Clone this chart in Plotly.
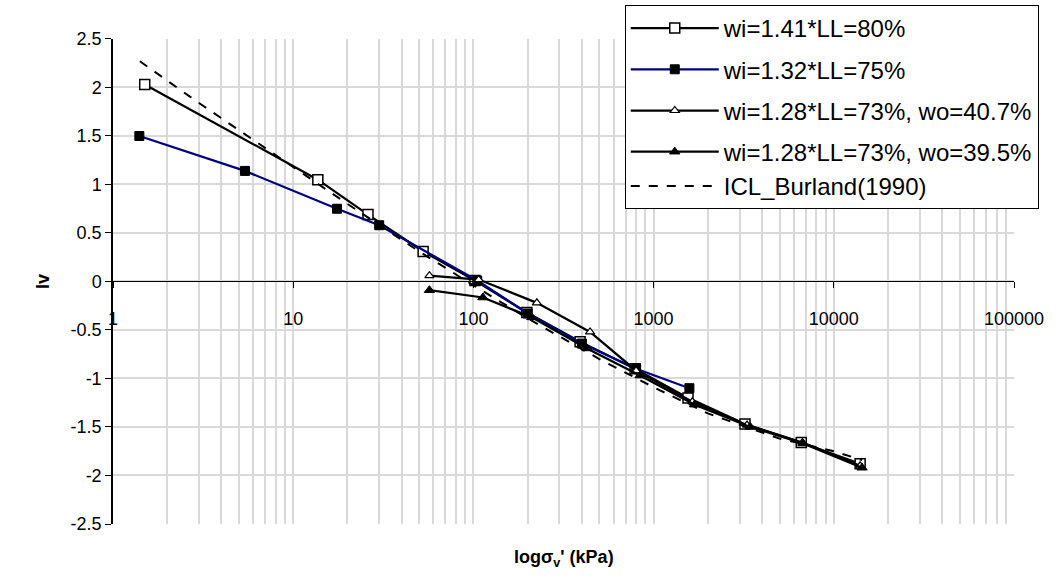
import plotly.graph_objects as go

# Oedometer compression data: void index Iv against vertical effective stress (kPa)
s1_stress = [1.5, 13.7, 26, 52.6, 102, 198, 391, 789, 1552, 3215, 6600, 14000]
s1_iv = [2.03, 1.05, 0.69, 0.31, 0.01, -0.32, -0.62, -0.90, -1.20, -1.47, -1.66, -1.88]

s2_stress = [1.4, 5.4, 17.5, 30, 105, 200, 400, 800, 1580]
s2_iv = [1.50, 1.14, 0.75, 0.58, 0.01, -0.33, -0.64, -0.90, -1.10]

s3_stress = [57, 107, 225, 444, 800, 1640, 3300, 6700, 14000]
s3_iv = [0.06, 0.02, -0.22, -0.52, -0.92, -1.24, -1.48, -1.66, -1.90]

s4_stress = [57, 113, 211, 427, 841, 1690, 3440, 6750, 14350]
s4_iv = [-0.09, -0.165, -0.37, -0.69, -0.97, -1.27, -1.50, -1.67, -1.92]

icl_stress = [1.41, 3, 5, 10, 20, 50, 100, 200, 500, 1000, 2000, 5000, 10000, 14350]
icl_iv = [2.27, 1.84, 1.56, 1.18, 0.80, 0.31, -0.04, -0.38, -0.80, -1.09, -1.36, -1.62, -1.75, -1.84]

names = ["wi=1.41*LL=80%", "wi=1.32*LL=75%", "wi=1.28*LL=73%, wo=40.7%",
         "wi=1.28*LL=73%, wo=39.5%", "ICL_Burland(1990)"]

x_major = [1, 10, 100, 1000, 10000, 100000]
x_major_text = ["1", "10", "100", "1000", "10000", "100000"]
y_ticks = [2.5, 2, 1.5, 1, 0.5, 0, -0.5, -1, -1.5, -2, -2.5]
y_tick_text = ["2.5", "2", "1.5", "1", "0.5", "0", "-0.5", "-1", "-1.5", "-2", "-2.5"]

x_minor = [m * d for d in x_major[:-1] for m in range(2, 10)]

FONT = "Liberation Sans, Arial, sans-serif"
GRID = "#d9d9d9"

# vertical layout: the y-axis occupies the lower part of the paper so the legend
# box can sit above it
Y_DOMAIN_TOP = 0.9345
X_AXIS_POS = Y_DOMAIN_TOP * 0.5  # paper height of Iv = 0

fig = go.Figure()

fig.add_trace(go.Scatter(
    x=s1_stress, y=s1_iv, name=names[0], mode="lines+markers", legendgroup="a",
    line=dict(color="black", width=2.25),
    marker=dict(symbol="square", size=10, color="white", line=dict(color="black", width=1.5)),
))
fig.add_trace(go.Scatter(
    x=s2_stress, y=s2_iv, name=names[1], mode="lines+markers", legendgroup="b",
    line=dict(color="#000080", width=2.25),
    marker=dict(symbol="square", size=9, color="black", line=dict(color="black", width=1)),
))
fig.add_trace(go.Scatter(
    x=s3_stress, y=s3_iv, name=names[2], mode="lines+markers", legendgroup="c",
    line=dict(color="black", width=2.25),
    marker=dict(symbol="triangle-up", size=8, color="white", line=dict(color="black", width=1.2)),
))
fig.add_trace(go.Scatter(
    x=s4_stress, y=s4_iv, name=names[3], mode="lines+markers", legendgroup="d",
    line=dict(color="black", width=2.25),
    marker=dict(symbol="triangle-up", size=9, color="black", line=dict(color="black", width=1)),
))
fig.add_trace(go.Scatter(
    x=icl_stress, y=icl_iv, name=names[4], mode="lines", legendgroup="d",
    line=dict(color="black", width=2, dash="dash"),
))

fig.update_layout(
    width=1060, height=583,
    margin=dict(l=113, r=46, t=5, b=59, autoexpand=False),
    paper_bgcolor="white", plot_bgcolor="white",
    font=dict(family=FONT, size=18, color="black"),
    showlegend=True,
    legend=dict(
        x=0.568, y=1.0, xanchor="left", yanchor="top",
        bgcolor="white", bordercolor="black", borderwidth=1,
        font=dict(family=FONT, size=24, color="black"),
        tracegroupgap=7, itemwidth=88, traceorder="grouped",
    ),
    xaxis=dict(
        type="log", range=[0, 5], anchor="free", position=X_AXIS_POS,
        showline=True, linecolor="black", linewidth=1,
        ticks="outside", ticklen=6, tickcolor="black",
        tickmode="array", tickvals=x_major, ticktext=x_major_text,
        ticklabelstandoff=15,
        showgrid=True, gridcolor=GRID, gridwidth=1.5, zeroline=False,
        minor=dict(tickmode="array", tickvals=x_minor, showgrid=True,
                   gridcolor=GRID, gridwidth=1.5, ticks=""),
        tickfont=dict(size=18),
    ),
    yaxis=dict(
        domain=[0, Y_DOMAIN_TOP],
        range=[-2.5, 2.5], tickmode="array", tickvals=y_ticks, ticktext=y_tick_text,
        showline=True, linecolor="black", linewidth=1.5,
        ticks="outside", ticklen=6, tickcolor="black",
        showgrid=True, gridcolor=GRID, gridwidth=1.5, zeroline=False,
        tickfont=dict(size=18),
        title=dict(text="<b>Iv</b>", font=dict(size=18), standoff=16),
    ),
    annotations=[dict(
        text="<b>logσ<sub>v</sub>' (kPa)</b>", xref="paper", yref="paper",
        x=0.5, y=-0.066, xanchor="center", yanchor="middle",
        showarrow=False, font=dict(size=18),
    )],
)

fig.write_html("out.html")
